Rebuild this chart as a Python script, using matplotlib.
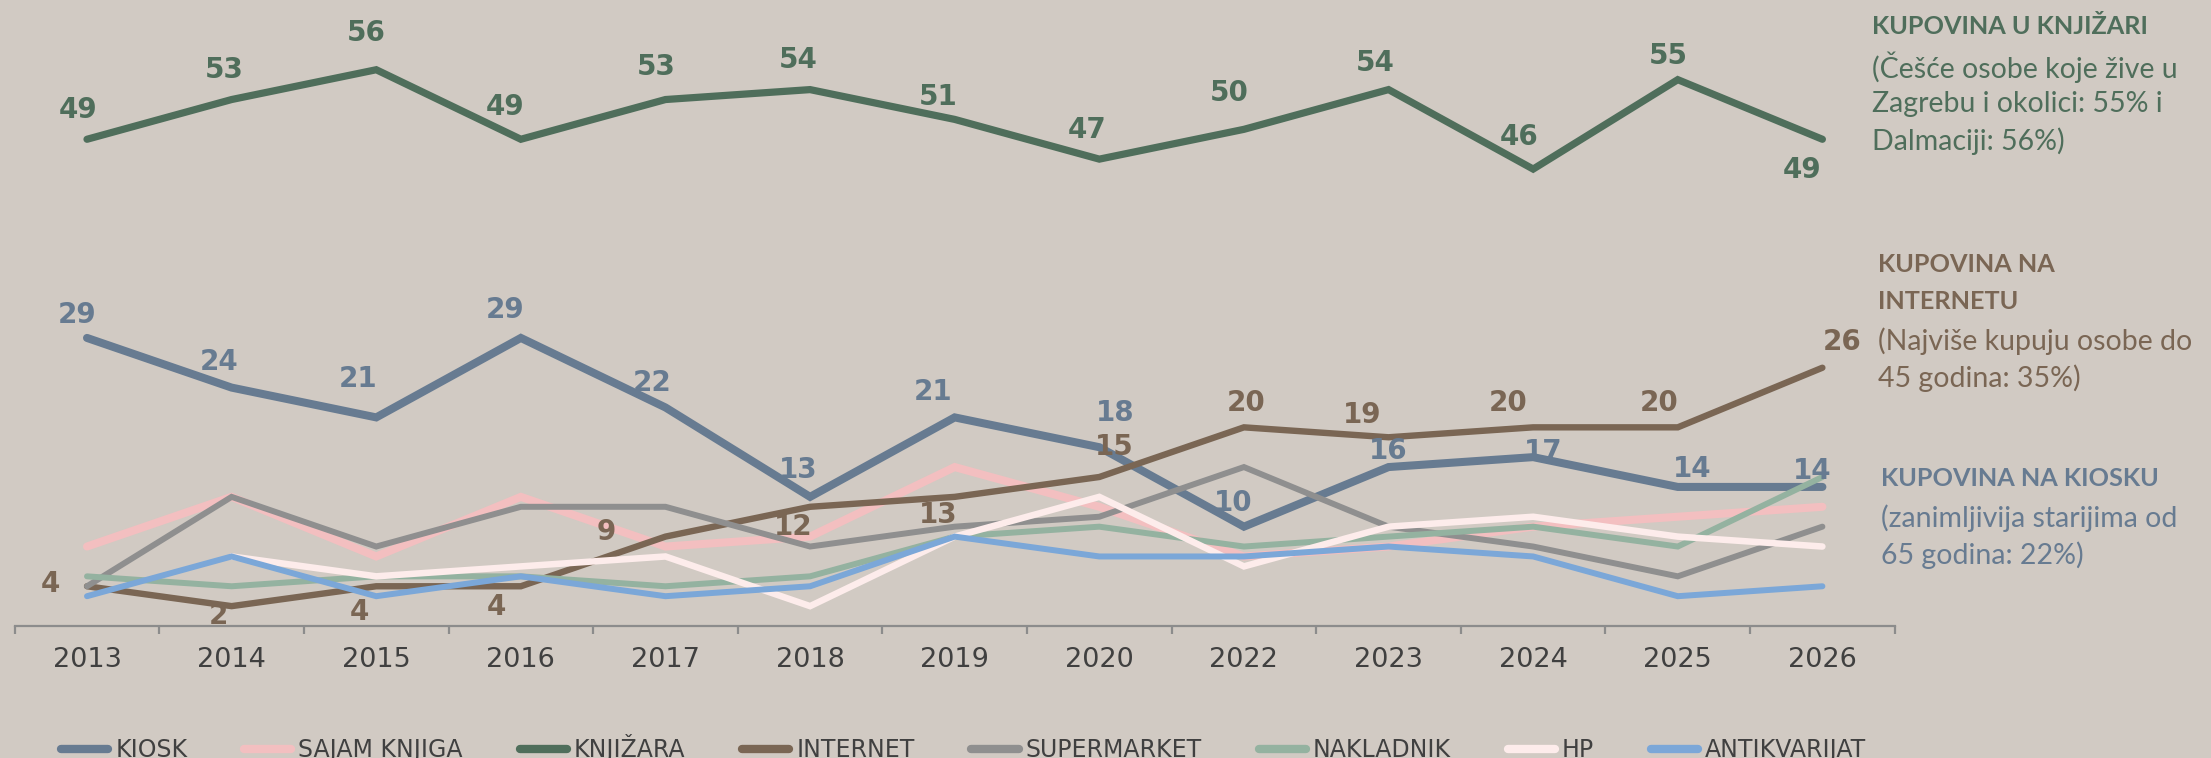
import numpy as np
import matplotlib.pyplot as plt
from matplotlib.lines import Line2D

BACKGROUND = '#d1cac3'

years = ['2013', '2014', '2015', '2016', '2017', '2018', '2019', '2020',
         '2022', '2023', '2024', '2025', '2026']

kiosk = [29, 24, 21, 29, 22, 13, 21, 18, 10, 16, 17, 14, 14]
sajam_knjiga = [8, 13, 7, 13, 8, 9, 16, 12, 7, 8, 10, 11, 12]
knjizara = [49, 53, 56, 49, 53, 54, 51, 47, 50, 54, 46, 55, 49]
internet = [4, 2, 4, 4, 9, 12, 13, 15, 20, 19, 20, 20, 26]
supermarket = [4, 13, 8, 12, 12, 8, 10, 11, 16, 10, 8, 5, 10]
nakladnik = [5, 4, 5, 5, 4, 5, 9, 10, 8, 9, 10, 8, 15]
hp = [np.nan, 7, 5, 6, 7, 2, 9, 13, 6, 10, 11, 9, 8]
antikvarijat = [3, 7, 3, 5, 3, 4, 9, 7, 7, 8, 7, 3, 4]

series_names = ['KIOSK', 'SAJAM KNJIGA', 'KNJIŽARA', 'INTERNET', 'SUPERMARKET',
                'NAKLADNIK', 'HP', 'ANTIKVARIJAT']
series_values = [kiosk, sajam_knjiga, knjizara, internet, supermarket,
                 nakladnik, hp, antikvarijat]
series_colors = ['#677b91', '#f3bfc0', '#4f6e5b', '#7a6654', '#8f8f8f',
                 '#94b2a0', '#fdeceb', '#7ba7d8']
series_widths = [5.8, 5.8, 5.2, 4.6, 4.3, 4.3, 4.7, 4.3]

# label offsets in pixels (dx, dy) for the labelled series
kiosk_offsets = [(-10, 23), (-12, 26), (-18, 38), (-16, 28), (-13, 24),
                 (-12, 27), (-22, 25), (16, 34), (-11, 24), (0, 16),
                 (10, 5), (14, 18), (-10, 16)]
knjizara_offsets = [(-9, 29), (-7, 30), (-10, 37), (-16, 32), (-9, 33),
                    (-12, 30), (-17, 22), (-12, 29), (-15, 36), (-13, 27),
                    (-14, 32), (-9, 24), (-20, -31)]
internet_offsets = [(-37, 2), (-13, -10), (-17, -26), (-24, -21), (-59, 5),
                    (-17, -20), (-17, -18), (15, 30), (2, 24), (-26, 22),
                    (-25, 24), (-19, 24), (20, 26)]

fig = plt.figure(figsize=(22.11, 7.58), dpi=100, facecolor=BACKGROUND)
ax = fig.add_axes([14.7 / 2211, 132 / 758, 1880 / 2211, 596 / 758])
ax.set_facecolor(BACKGROUND)

x = np.arange(len(years))
for name, values, color, width in zip(series_names, series_values,
                                      series_colors, series_widths):
    ax.plot(x, values, color=color, linewidth=width,
            solid_capstyle='round', solid_joinstyle='miter', label=name)

label_font = dict(fontsize=20, fontweight='bold', family='DejaVu Sans',
                  ha='center', va='center')
for values, offsets, color in [(kiosk, kiosk_offsets, series_colors[0]),
                               (knjizara, knjizara_offsets, series_colors[2]),
                               (internet, internet_offsets, series_colors[3])]:
    for xi, value, (dx, dy) in zip(x, values, offsets):
        ax.annotate(str(value), (xi, value), xytext=(dx, dy),
                    textcoords='offset pixels', color=color, **label_font)

ax.set_xlim(-0.5, len(years) - 0.5)
ax.set_ylim(0, 60)
ax.set_yticks([])
for side in ['left', 'right', 'top']:
    ax.spines[side].set_visible(False)
ax.spines['bottom'].set_color('#8c8c8c')
ax.spines['bottom'].set_linewidth(1.6)
ax.set_xticks(x)
ax.set_xticklabels(years, fontsize=19.5, color='#404040')
ax.tick_params(axis='x', which='major', length=0, pad=15)
ax.set_xticks(np.arange(-0.5, len(years)), minor=True)
ax.tick_params(axis='x', which='minor', length=6, width=1.6,
               color='#8c8c8c', direction='out')

legend_handles = [Line2D([0], [0], color=c, linewidth=6,
                         solid_capstyle='round') for c in series_colors]
fig.legend(legend_handles, series_names, loc='center left', ncol=8,
           bbox_to_anchor=(61 / 2211, 1 - 748 / 758), frameon=False,
           fontsize=17, labelcolor='#404040', handlelength=2.0,
           handletextpad=0.3, columnspacing=2.4, borderpad=0,
           borderaxespad=0)

note_font = ['Lato', 'DejaVu Sans']
notes = [
    (1872, [27, 67, 104, 141], series_colors[2],
     ['KUPOVINA U KNJIŽARI', '(Češće osobe koje žive u',
      'Zagrebu i okolici: 55% i', 'Dalmaciji: 56%)'], 1),
    (1878, [264, 302, 341, 378], series_colors[3],
     ['KUPOVINA NA', 'INTERNETU', '(Najviše kupuju osobe do',
      '45 godina: 35%)'], 2),
    (1881, [478, 518, 555], series_colors[0],
     ['KUPOVINA NA KIOSKU', '(zanimljivija starijima od',
      '65 godina: 22%)'], 1),
]
for left, ys, color, texts, n_bold in notes:
    for i, (yy, txt) in enumerate(zip(ys, texts)):
        bold = i < n_bold
        fig.text(left / 2211, 1 - yy / 758, txt, color=color,
                 fontsize=18.2 if bold else 20.5, family=note_font,
                 va='center', ha='left',
                 fontweight='bold' if bold else 'normal')

plt.savefig('out.png', dpi=100, facecolor=BACKGROUND)
